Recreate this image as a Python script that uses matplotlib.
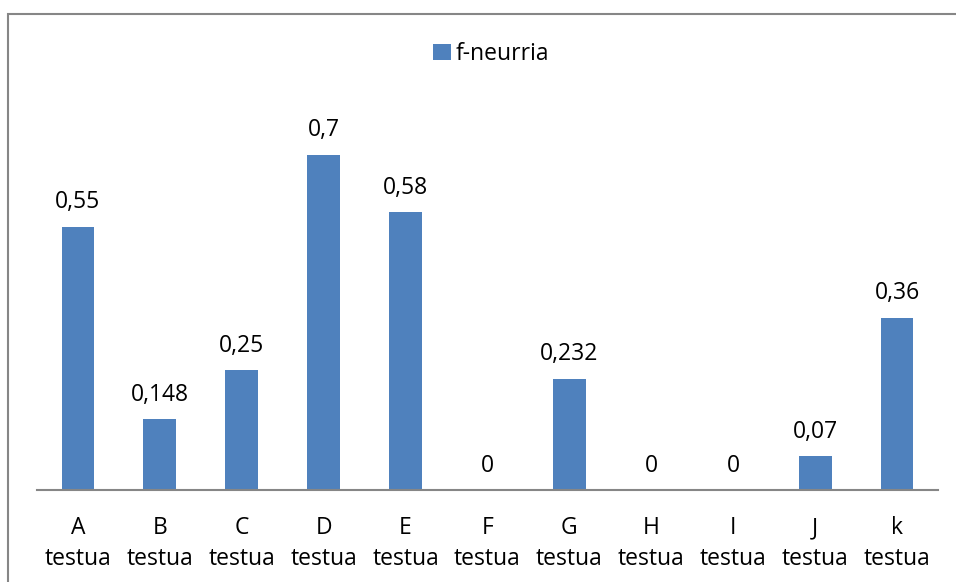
import matplotlib
matplotlib.use("Agg")
import matplotlib.pyplot as plt
from matplotlib.patches import Rectangle

categories = ["A\ntestua", "B\ntestua", "C\ntestua", "D\ntestua", "E\ntestua", "F\ntestua",
              "G\ntestua", "H\ntestua", "I\ntestua", "J\ntestua", "k\ntestua"]
values = [0.55, 0.148, 0.25, 0.7, 0.58, 0, 0.232, 0, 0, 0.07, 0.36]
labels = ["0,55", "0,148", "0,25", "0,7", "0,58", "0", "0,232", "0", "0", "0,07", "0,36"]

plt.rcParams['font.family'] = ['Open Sans', 'DejaVu Sans']
fs = 16.5

fig = plt.figure(figsize=(9.56, 5.82), dpi=100)
ax = fig.add_axes([37/956, 92/582, 901/956, 383/582])

x = range(len(categories))
bars = ax.bar(x, values, width=0.4, color="#4F81BD", label="f-neurria", zorder=2)

for xi, v, t in zip(x, values, labels):
    ax.annotate(t, (xi, v), xytext=(0, 9), textcoords="offset points",
                ha="center", va="bottom", fontsize=fs)

ax.set_xlim(-0.5, len(categories) - 0.5)
ax.set_ylim(0, 0.8)
ax.set_xticks(list(x))
ax.set_xticklabels(categories, fontsize=fs, linespacing=1.35)
ax.tick_params(axis="x", length=0, pad=19)
ax.set_yticks([])
for s in ["top", "right", "left"]:
    ax.spines[s].set_visible(False)
ax.spines["bottom"].set_color("#868686")
ax.spines["bottom"].set_linewidth(1.5)

# outer chart border
fig.patches.append(Rectangle((7.5/956, -0.1), 1.1, 1 - 13.5/582 + 0.1, transform=fig.transFigure,
                             fill=False, edgecolor="#868686", linewidth=1.5))

fig.legend(handles=[bars], loc="center", bbox_to_anchor=(491/956, 1 - 54/582),
           frameon=False, fontsize=fs, handlelength=0.75, handleheight=0.75,
           handletextpad=0.2)

fig.savefig("out.png", dpi=100)
